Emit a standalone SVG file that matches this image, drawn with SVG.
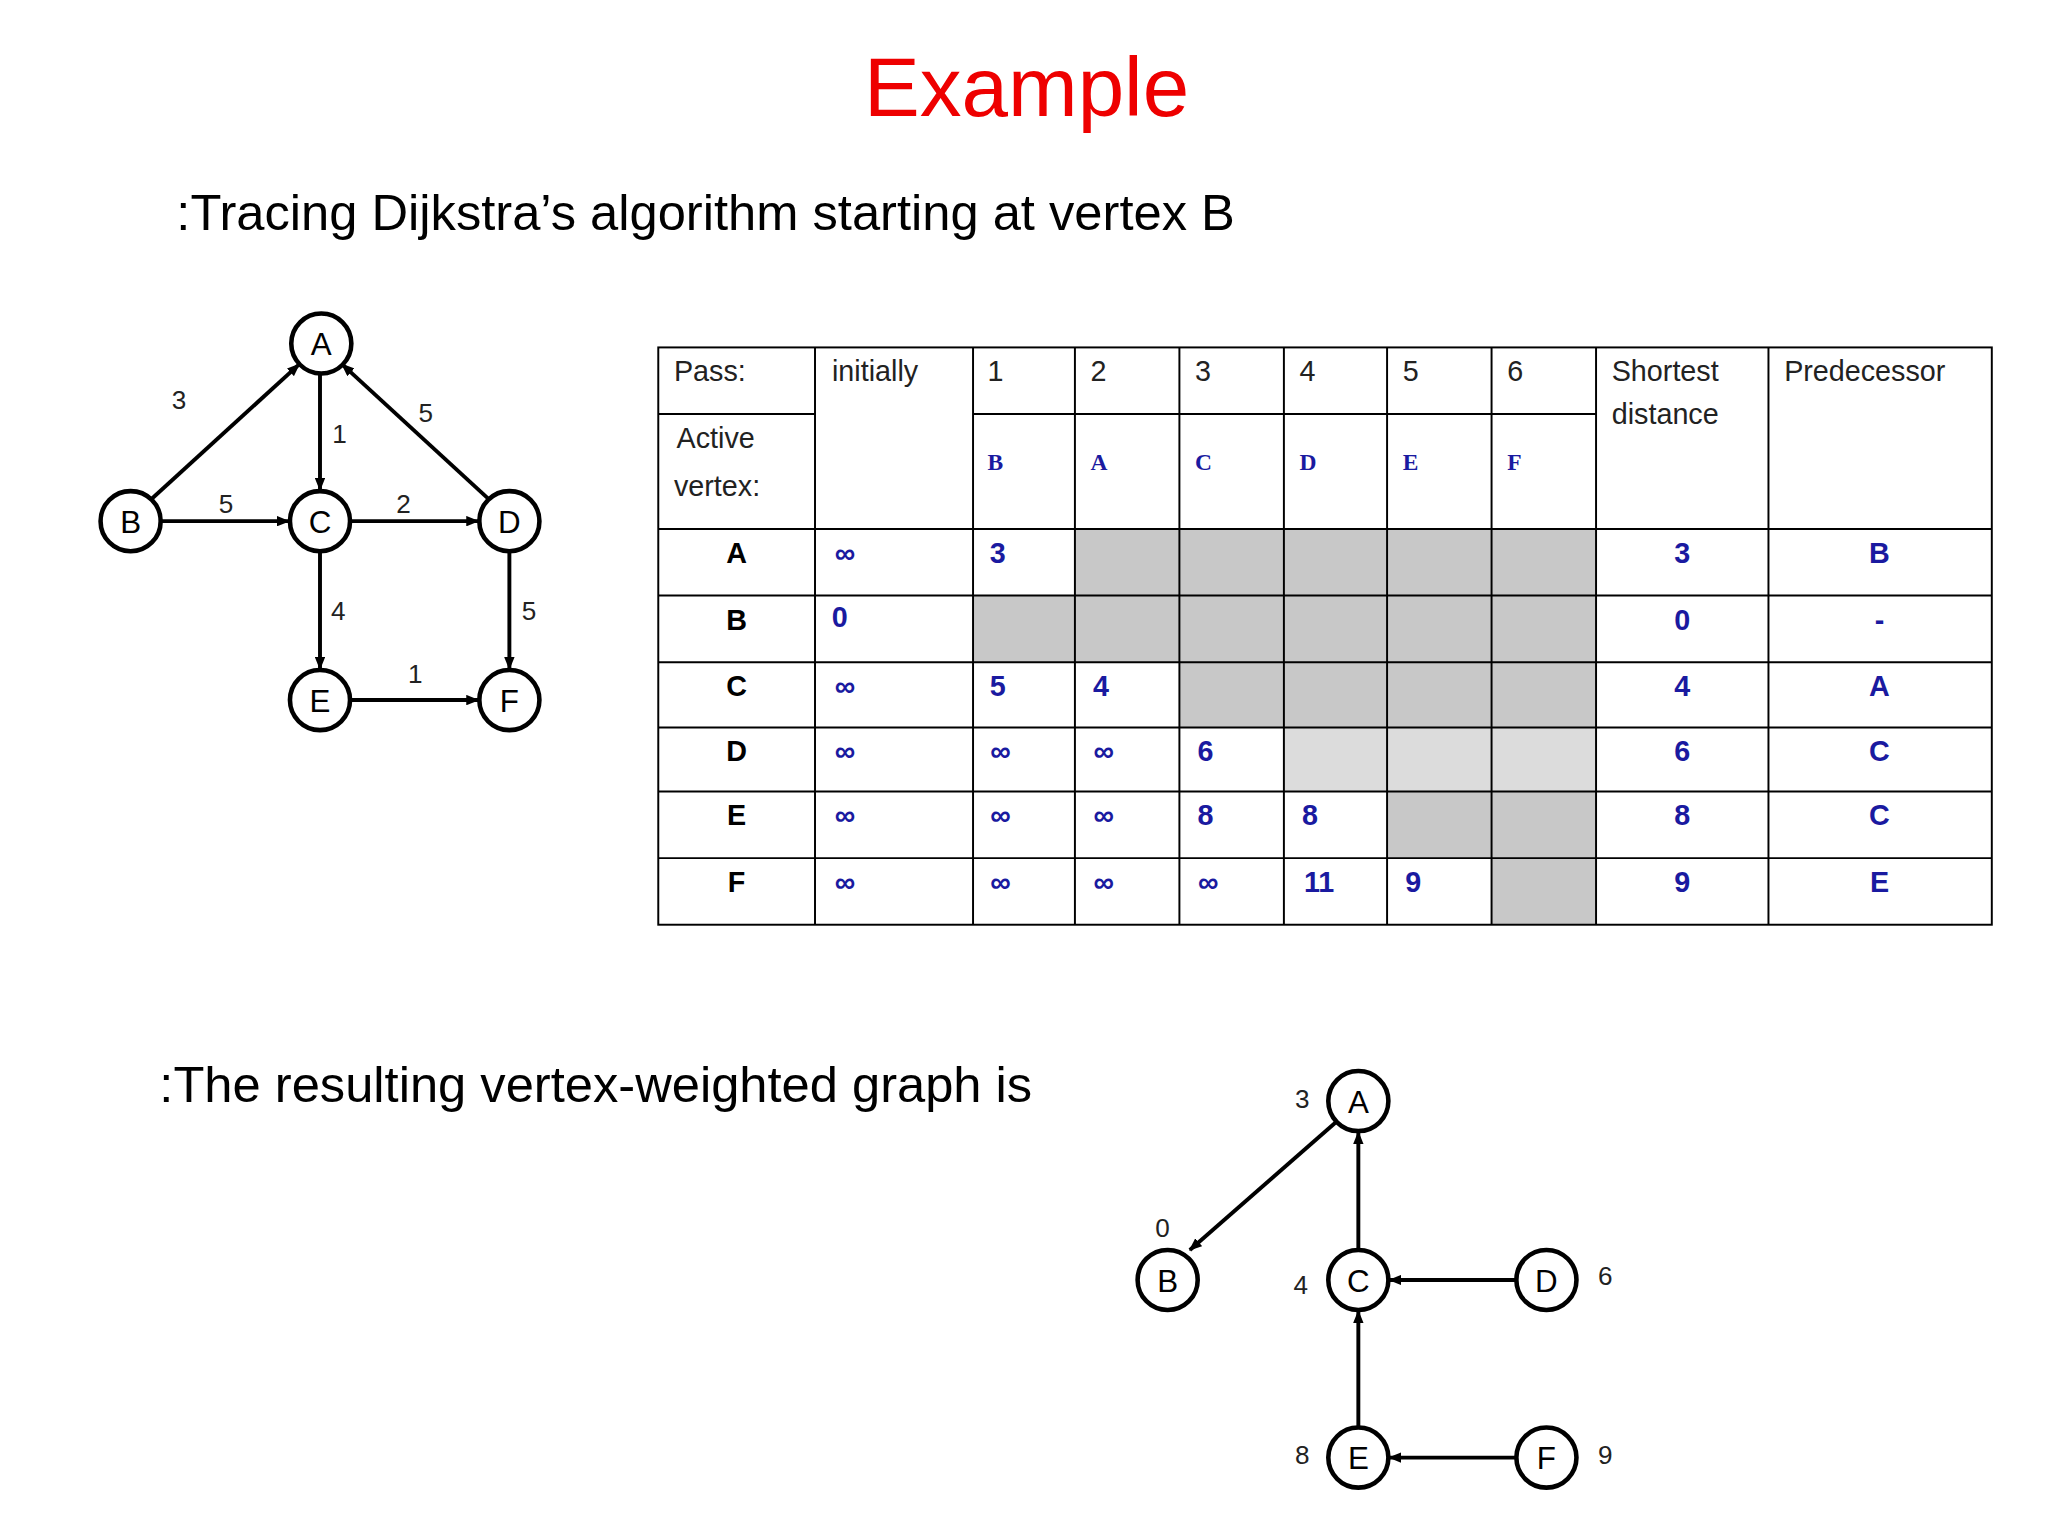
<svg xmlns="http://www.w3.org/2000/svg" width="2048" height="1536" viewBox="0 0 2048 1536">
<style>
.n{fill:#fff;stroke:#000;stroke-width:3.5}
.nt{font-family:"Liberation Sans",Arial,sans-serif;font-size:24px;text-anchor:middle;fill:#000}
.e{stroke:#000;stroke-width:3;fill:none;marker-end:url(#ah)}
.w{font-family:"Liberation Sans",Arial,sans-serif;font-size:20px;fill:#222;text-anchor:middle}
.g{stroke:#000;stroke-width:1.5}
.h{font-family:"Liberation Sans",Arial,sans-serif;font-size:22px;fill:#222}
.v{font-family:"Liberation Serif",serif;font-size:18px;fill:#1a1aa0;font-weight:bold}
.b{font-family:"Liberation Sans",Arial,sans-serif;font-size:22px;fill:#1a1aa0;font-weight:bold;text-anchor:middle}
.r{font-family:"Liberation Sans",Arial,sans-serif;font-size:22px;fill:#000;font-weight:bold;text-anchor:middle}
.t{font-family:"Liberation Sans",Arial,sans-serif;font-size:38.8px;fill:#000}
</style>
<defs><marker id="ah" markerWidth="10" markerHeight="8" refX="9" refY="4" orient="auto" markerUnits="userSpaceOnUse"><path d="M0,0 L10,4 L0,8 z" fill="#000"/></marker></defs>
<rect width="2048" height="1536" fill="#fff"/>
<g transform="scale(1.3061)">
<text x="786" y="89" font-family="Liberation Sans,Arial,sans-serif" font-size="64" fill="#e00" text-anchor="middle">Example</text>
<text class="t" x="135" y="176">:Tracing Dijkstra’s algorithm starting at vertex B</text>
<text class="t" x="122" y="844">:The resulting vertex-weighted graph is</text>
<g id="graph1-edges">
<line class="e" x1="116" y1="382" x2="229" y2="279"/>
<line class="e" x1="245" y1="286" x2="245" y2="375"/>
<line class="e" x1="374" y1="382" x2="262" y2="279"/>
<line class="e" x1="123" y1="399" x2="221" y2="399"/>
<line class="e" x1="268" y1="399" x2="366" y2="399"/>
<line class="e" x1="245" y1="422" x2="245" y2="512"/>
<line class="e" x1="390" y1="422" x2="390" y2="512"/>
<line class="e" x1="268" y1="536" x2="366" y2="536"/>
<text class="w" x="137" y="313">3</text><text class="w" x="260" y="339">1</text><text class="w" x="326" y="323">5</text>
<text class="w" x="173" y="393">5</text><text class="w" x="309" y="393">2</text><text class="w" x="259" y="475">4</text>
<text class="w" x="405" y="475">5</text><text class="w" x="318" y="523">1</text>
</g>
<g id="g1A"><circle class="n" cx="246" cy="263" r="23"/><text class="nt" x="246" y="272">A</text></g>
<g id="g1B"><circle class="n" cx="100" cy="399" r="23"/><text class="nt" x="100" y="408">B</text></g>
<g id="g1C"><circle class="n" cx="245" cy="399" r="23"/><text class="nt" x="245" y="408">C</text></g>
<g id="g1D"><circle class="n" cx="390" cy="399" r="23"/><text class="nt" x="390" y="408">D</text></g>
<g id="g1E"><circle class="n" cx="245" cy="536" r="23"/><text class="nt" x="245" y="545">E</text></g>
<g id="g1F"><circle class="n" cx="390" cy="536" r="23"/><text class="nt" x="390" y="545">F</text></g>

<g id="table">
<rect x="823" y="405" width="399" height="51" fill="#c8c8c8"/>
<rect x="745" y="456" width="477" height="51" fill="#c8c8c8"/>
<rect x="903" y="507" width="319" height="50" fill="#c8c8c8"/>
<rect x="983" y="557" width="239" height="49" fill="#dcdcdc"/>
<rect x="1062" y="606" width="160" height="51" fill="#c8c8c8"/>
<rect x="1142" y="657" width="80" height="51" fill="#c8c8c8"/>
<rect x="504" y="266" width="1021" height="442" fill="none" class="g"/>
<line class="g" x1="624" y1="266" x2="624" y2="708"/><line class="g" x1="745" y1="266" x2="745" y2="708"/>
<line class="g" x1="823" y1="266" x2="823" y2="708"/><line class="g" x1="903" y1="266" x2="903" y2="708"/>
<line class="g" x1="983" y1="266" x2="983" y2="708"/><line class="g" x1="1062" y1="266" x2="1062" y2="708"/>
<line class="g" x1="1142" y1="266" x2="1142" y2="708"/><line class="g" x1="1222" y1="266" x2="1222" y2="708"/>
<line class="g" x1="1354" y1="266" x2="1354" y2="708"/>
<line class="g" x1="504" y1="317" x2="624" y2="317"/><line class="g" x1="745" y1="317" x2="1222" y2="317"/>
<line class="g" x1="504" y1="405" x2="1525" y2="405"/><line class="g" x1="504" y1="456" x2="1525" y2="456"/>
<line class="g" x1="504" y1="507" x2="1525" y2="507"/><line class="g" x1="504" y1="557" x2="1525" y2="557"/>
<line class="g" x1="504" y1="606" x2="1525" y2="606"/><line class="g" x1="504" y1="657" x2="1525" y2="657"/>
<text class="h" x="516" y="292">Pass:</text><text class="h" x="518" y="343">Active</text><text class="h" x="516" y="380">vertex:</text>
<text class="h" x="637" y="292">initially</text>
<text class="h" x="756" y="292">1</text><text class="h" x="835" y="292">2</text><text class="h" x="915" y="292">3</text>
<text class="h" x="995" y="292">4</text><text class="h" x="1074" y="292">5</text><text class="h" x="1154" y="292">6</text>
<text class="h" x="1234" y="292">Shortest</text><text class="h" x="1234" y="325">distance</text>
<text class="h" x="1366" y="292">Predecessor</text>
<text class="v" x="756" y="360">B</text><text class="v" x="835" y="360">A</text><text class="v" x="915" y="360">C</text>
<text class="v" x="995" y="360">D</text><text class="v" x="1074" y="360">E</text><text class="v" x="1154" y="360">F</text>
<g class="r"><text x="564" y="431">A</text><text x="564" y="482">B</text><text x="564" y="533">C</text><text x="564" y="583">D</text><text x="564" y="632">E</text><text x="564" y="683">F</text></g>
<g class="b">
<text x="647" y="431">∞</text><text x="643" y="480">0</text><text x="647" y="533">∞</text><text x="647" y="583">∞</text><text x="647" y="632">∞</text><text x="647" y="683">∞</text>
<text x="764" y="431">3</text><text x="764" y="533">5</text><text x="766" y="583">∞</text><text x="766" y="632">∞</text><text x="766" y="683">∞</text>
<text x="843" y="533">4</text><text x="845" y="583">∞</text><text x="845" y="632">∞</text><text x="845" y="683">∞</text>
<text x="923" y="583">6</text><text x="923" y="632">8</text><text x="925" y="683">∞</text>
<text x="1003" y="632">8</text><text x="1010" y="683">11</text>
<text x="1082" y="683">9</text>
<text x="1288" y="431">3</text><text x="1288" y="482">0</text><text x="1288" y="533">4</text><text x="1288" y="583">6</text><text x="1288" y="632">8</text><text x="1288" y="683">9</text>
<text x="1439" y="431">B</text><text x="1439" y="482">-</text><text x="1439" y="533">A</text><text x="1439" y="583">C</text><text x="1439" y="632">C</text><text x="1439" y="683">E</text>
</g>
</g>

<g id="graph2-edges">
<line class="e" x1="1023" y1="859" x2="911" y2="957"/>
<line class="e" x1="1040" y1="957" x2="1040" y2="867"/>
<line class="e" x1="1161" y1="980" x2="1064" y2="980"/>
<line class="e" x1="1040" y1="1093" x2="1040" y2="1004"/>
<line class="e" x1="1161" y1="1116" x2="1064" y2="1116"/>
<text class="w" x="997" y="848">3</text><text class="w" x="890" y="947">0</text><text class="w" x="996" y="991">4</text>
<text class="w" x="1229" y="984">6</text><text class="w" x="997" y="1121">8</text><text class="w" x="1229" y="1121">9</text>
</g>
<g id="g2A"><circle class="n" cx="1040" cy="843" r="23"/><text class="nt" x="1040" y="852">A</text></g>
<g id="g2B"><circle class="n" cx="894" cy="980" r="23"/><text class="nt" x="894" y="989">B</text></g>
<g id="g2C"><circle class="n" cx="1040" cy="980" r="23"/><text class="nt" x="1040" y="989">C</text></g>
<g id="g2D"><circle class="n" cx="1184" cy="980" r="23"/><text class="nt" x="1184" y="989">D</text></g>
<g id="g2E"><circle class="n" cx="1040" cy="1116" r="23"/><text class="nt" x="1040" y="1125">E</text></g>
<g id="g2F"><circle class="n" cx="1184" cy="1116" r="23"/><text class="nt" x="1184" y="1125">F</text></g>
</g>
</svg>
